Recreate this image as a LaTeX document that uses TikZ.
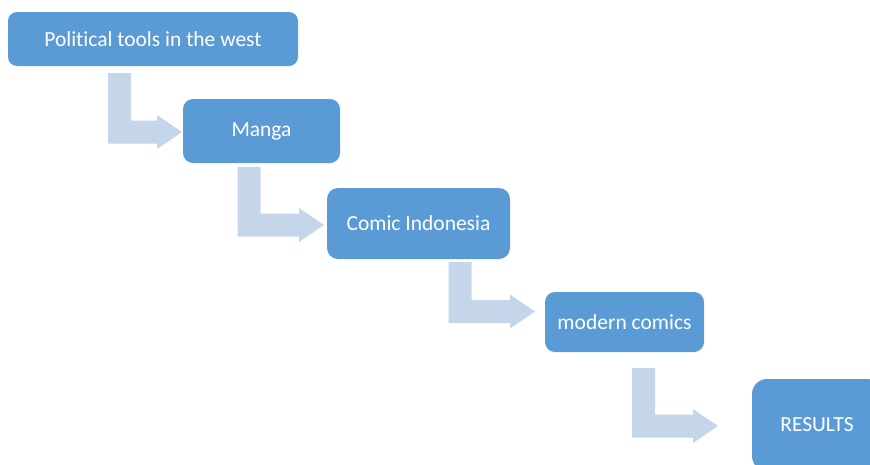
\documentclass[tikz,border=0pt]{standalone}
\usepackage{fontspec}
\setmainfont[Ligatures=NoCommon]{Carlito}
\usetikzlibrary{calc}
\definecolor{boxblue}{RGB}{91,155,213}
\definecolor{arrowblue}{RGB}{197,213,234}

\tikzset{
  stagebox/.style={fill=boxblue, text=white, font=\fontsize{21.5}{24}\selectfont,
    inner sep=0pt, rounded corners=9pt},
  flowarrow/.style={fill=arrowblue}
}

% bent block arrow: #1 top of the bar, #2 tip of the head
\newcommand{\bentarrow}[2]{%
  \fill[flowarrow] let \p1=(#1), \p2=(#2) in
    (\x1-11.5pt,\y1) -- (\x1+11.5pt,\y1) -- (\x1+11.5pt,\y2+11.5pt)
    -- (\x2-25pt,\y2+11.5pt) -- (\x2-25pt,\y2+17pt) -- (\x2,\y2)
    -- (\x2-25pt,\y2-17pt) -- (\x2-25pt,\y2-11.5pt) -- (\x1-11.5pt,\y2-11.5pt) -- cycle;
}

\begin{document}
\begin{tikzpicture}[x=1pt, y=-1pt]
  \clip (0,0) rectangle (870,464);

  % Boxes
  \node[stagebox, minimum width=290pt, minimum height=54pt] (west) at (153,39) {Political tools in the west};
  \node[stagebox, minimum width=157pt, minimum height=64pt, rounded corners=10pt] (manga) at (261.5,131) {Manga};
  \node[stagebox, minimum width=183pt, minimum height=71pt, rounded corners=11pt] (indo) at (418.5,223.5) {Comic Indonesia};
  \node[stagebox, minimum width=159pt, minimum height=60pt, rounded corners=10pt] (modern) at (624.5,322) {modern comics};
  \node[stagebox, minimum width=130pt, minimum height=92pt, rounded corners=15pt] (results) at (817,425) {RESULTS};

  % Arrow ends
  \coordinate (a1s) at (119.5,73);  \coordinate (a1e) at (182,132);
  \coordinate (a2s) at (249,167);   \coordinate (a2e) at (324,225);
  \coordinate (a3s) at (460,262);   \coordinate (a3e) at (535,311.5);
  \coordinate (a4s) at (643.5,368); \coordinate (a4e) at (718,426);

  % Arrows
  \bentarrow{a1s}{a1e}
  \bentarrow{a2s}{a2e}
  \bentarrow{a3s}{a3e}
  \bentarrow{a4s}{a4e}
\end{tikzpicture}
\end{document}
